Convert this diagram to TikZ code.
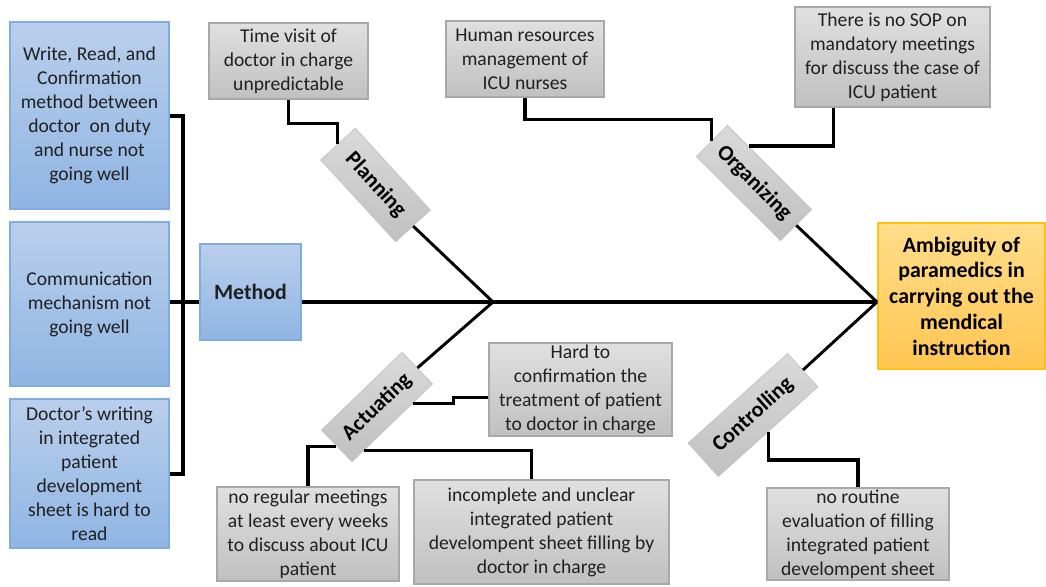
\documentclass[tikz,border=0pt]{standalone}
\usepackage{fontspec}
\setmainfont{Carlito}
\usetikzlibrary{calc}

\definecolor{bluetop}{RGB}{186,207,236}
\definecolor{bluebot}{RGB}{143,181,227}
\definecolor{blueline}{RGB}{128,172,226}
\definecolor{greytop}{RGB}{224,224,224}
\definecolor{greybot}{RGB}{192,192,192}
\definecolor{greyline}{RGB}{168,168,168}
\definecolor{yeltop}{RGB}{255,221,138}
\definecolor{yelbot}{RGB}{255,198,82}
\definecolor{yelline}{RGB}{255,194,20}
\definecolor{txt}{RGB}{32,32,32}

\tikzset{every picture/.style={line width=0.75pt}}
\tikzset{
  causebox/.style={draw=blueline, line width=0.8pt, top color=bluetop, bottom color=bluebot,
    text=txt, align=center, inner sep=1pt, font=\fontsize{14.7}{18}\selectfont},
  subbox/.style={draw=greyline, line width=0.8pt, top color=greytop, bottom color=greybot,
    text=txt, align=center, inner sep=1pt, font=\fontsize{14.7}{18}\selectfont},
  bonebox/.style={draw=greyline!70, line width=0.5pt, top color=greytop!80!greybot, bottom color=greybot,
    text=black, inner sep=0pt, font=\bfseries\fontsize{16.4}{19.3}\selectfont},
  effectbox/.style={draw=yelline, line width=0.8pt, top color=yeltop, bottom color=yelbot,
    text=black, align=center, inner sep=1pt, font=\bfseries\fontsize{16.4}{19.3}\selectfont},
  spine/.style={line width=3pt},
  wire/.style={line width=2.4pt},
  boneline/.style={line width=2.2pt}
}

\begin{document}
\begin{tikzpicture}[x=0.75pt,y=0.75pt,yscale=-1,xscale=1]
\useasboundingbox (0,0) rectangle (1046,586);

%Shape: Rectangle [method causes]
\node [causebox, minimum width=119.25pt, minimum height=140.25pt] (wrc) at (89.5,115.5) {Write, Read, and\\Confirmation\\method between\\doctor\ \ on duty\\and nurse not\\going well};
\node [causebox, minimum width=119.25pt, minimum height=123pt] (comm) at (89.5,304) {Communication\\mechanism not\\going well};
\node [causebox, minimum width=119.25pt, minimum height=111.75pt] (dw) at (89.5,473.5) {Doctor’s writing\\in integrated\\patient\\development\\sheet is hard to\\read};
\node [causebox, minimum width=75.75pt, minimum height=72pt, font=\bfseries\fontsize{16.4}{19.3}\selectfont] (method) at (250.5,292) {Method};

%Shape: Rectangle [effect]
\node [effectbox, minimum width=125.25pt, minimum height=109.5pt] (effect) at (961.5,296) {Ambiguity of\\paramedics in\\carrying out the\\mendical\\instruction};

%Shape: Rectangle [sub causes]
\node [subbox, minimum width=119.25pt, minimum height=57pt] (tv) at (288.5,61) {Time visit of\\doctor in charge\\unpredictable};
\node [subbox, minimum width=118.5pt, minimum height=57pt] (hr) at (525,59) {Human resources\\management of\\ICU nurses};
\node [subbox, minimum width=146.25pt, minimum height=75pt] (sop) at (892.5,57) {There is no SOP on\\mandatory meetings\\for discuss the case of\\ICU patient};
\node [subbox, minimum width=137.25pt, minimum height=69.75pt] (hard) at (580.5,389.5) {Hard to\\confirmation the\\treatment of patient\\to doctor in charge};
\node [subbox, minimum width=136.5pt, minimum height=70.5pt] (meet) at (308,534) {no regular meetings\\at least every weeks\\to discuss about ICU\\patient};
\node [subbox, minimum width=191.25pt, minimum height=78pt] (inc) at (541.5,532) {incomplete and unclear\\integrated patient\\develompent sheet filling by\\doctor in charge};
\node [subbox, minimum width=136.5pt, minimum height=69pt] (nr) at (858,534) {no routine\\evaluation of filling\\integrated patient\\develompent sheet};

%Shape: Rotated boxes [bones]
\node [bonebox, rotate=-47.5, minimum width=83.25pt, minimum height=35.25pt] (plan) at (375.5,185) {Planning};
\node [bonebox, rotate=44, minimum width=84pt, minimum height=33pt] (act) at (377,407) {Actuating};
\node [bonebox, rotate=-45, minimum width=89.25pt, minimum height=33pt] (org) at (754,183) {Organizing};
\node [bonebox, rotate=42, minimum width=100.5pt, minimum height=33.75pt] (ctrl) at (753,415) {Controlling};

\coordinate (j1) at (493,302);
\coordinate (j2) at (877,302);
\coordinate (brk) at (183,302);

%Straight Lines [spine]
\draw [spine] (method.east |- j1) -- (j2);
\draw [spine] (wrc.east) -| (brk) |- (dw.east);
\draw [spine] (comm.east |- j1) -- (method.west |- j1);

%Straight Lines [bones]
\draw [boneline] (plan.east) -- (j1);
\draw [boneline] (act.east) -- (j1);
\draw [boneline] (org.east) -- (j2);
\draw [boneline] (ctrl.east) -- (j2);

%Straight Lines [connectors]
\draw [wire] (tv.south) -- ++(0,24) -| (plan.west);
\draw [wire] (hr.south) -- ++(0,22) -| (org.west);
\draw [wire] ($(sop.south)+(-59,0)$) |- ($(org.north west)!0.25!(org.north east)$);
\draw [wire] ($(act.south)!0.5!(act.south east)$) -| ($(hard.west)+(-35,8)$) -- ($(hard.west)+(0,8)$);
\draw [wire] (act.west) -| (meet.north);
\draw [wire] ($(act.south west)!0.15!(act.south east)$) -| ($(inc.north)+(-10,0)$);
\draw [wire] (ctrl.south) -- ++(0,28) -| (nr.north);

\end{tikzpicture}
\end{document}
